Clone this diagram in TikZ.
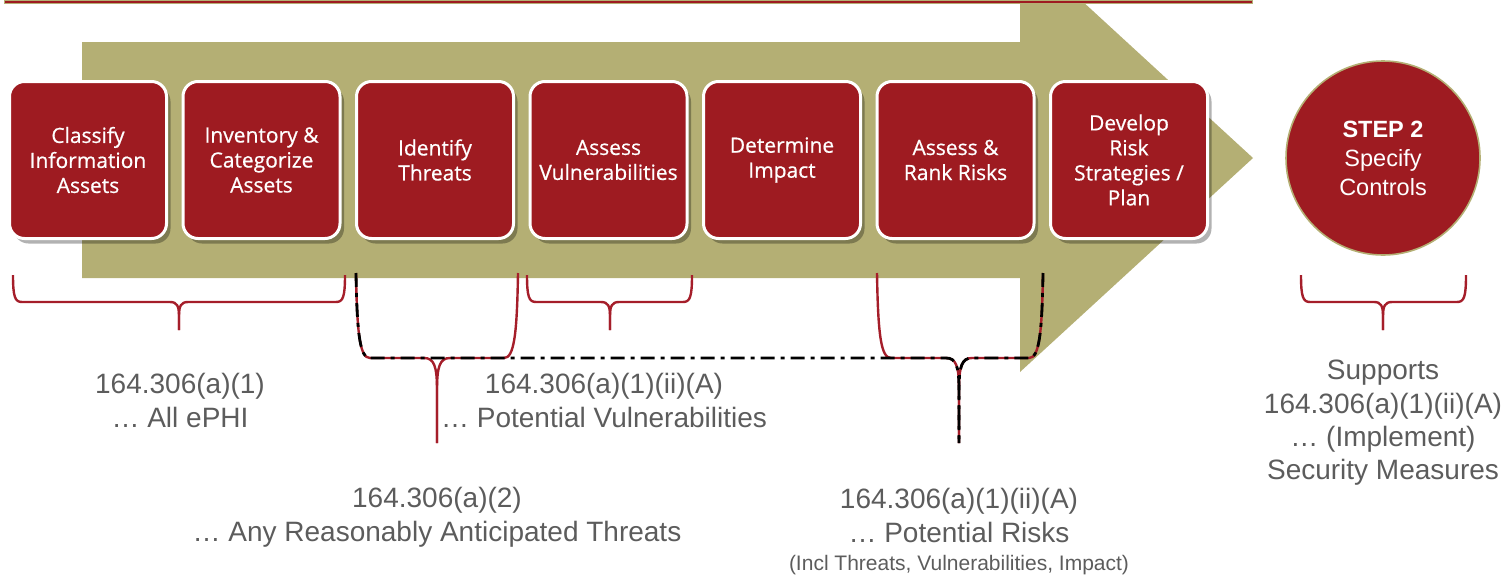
\documentclass[tikz,border=0pt]{standalone}
\usepackage{fontspec}
\setmainfont{Liberation Sans}
\newfontfamily\stepfont[FakeBold=0.6]{Open Sans}
\usetikzlibrary{shadows}

\definecolor{stepred}{RGB}{158,27,33}
\definecolor{olive}{RGB}{180,175,116}
\definecolor{bracered}{RGB}{165,30,42}
\definecolor{notegray}{RGB}{92,92,92}

% half of a short curly brace: arm at #1, cusp at #2 (sign #3 = direction of the arm)
\newcommand\shorthalf[3]{%
  \draw[bracepen] (#1,275) .. controls (#1,297) and (#1+#3*2,302) .. (#1+#3*9,302)
    -- (#2-#3*9,302) .. controls (#2-#3*2,302) and (#2,306) .. (#2,316) -- (#2,330);}
% half of a tall curly brace
\newcommand\tallhalf[4]{%
  \draw[#4] (#1,273) .. controls (#1+#3*1,335) and (#1+#3*4,358) .. (#1+#3*14,358)
    -- (#2-#3*13,358) .. controls (#2-#3*3,358) and (#2,366) .. (#2,390) -- (#2,443);}

\begin{document}
\begin{tikzpicture}[x=1pt,y=-1pt,
  stepbox/.style={rounded corners=15pt, fill=stepred, draw=white, line width=3pt,
    minimum width=157pt, minimum height=157pt, inner sep=0pt, align=center,
    text=white, font=\stepfont\fontsize{21}{25}\selectfont,
    drop shadow={shadow xshift=4pt, shadow yshift=-5pt, opacity=.3, fill=black}},
  bracepen/.style={draw=bracered, line width=2.4pt},
  dashpen/.style={draw=black, line width=2.8pt, line cap=butt,
    dash pattern=on 14pt off 6pt on 4pt off 6pt},
  note/.style={text=notegray, align=center, inner sep=0pt, font=\fontsize{28}{34}\selectfont}]
\useasboundingbox (0,0) rectangle (1509,579);

% process arrow
\fill[olive] (82,42) -- (1020,42) -- (1020,0) -- (1081,0) -- (1253,158)
  -- (1020,372) -- (1020,278) -- (82,278) -- cycle;
% header rule
\filldraw[fill=stepred, draw=olive, line width=0.8pt] (4,0) rectangle (1252,3.5);

% process steps
\node[stepbox] (classify) at (88,160) {Classify\\Information\\Assets};
\node[stepbox] (inventory) at (261.5,160) {Inventory \&\\Categorize\\Assets};
\node[stepbox] (threatsbox) at (435,160) {Identify\\Threats};
\node[stepbox] (vulnbox) at (608.5,160) {Assess\\Vulnerabilities};
\node[stepbox] (impact) at (782,160) {Determine\\Impact};
\node[stepbox] (rank) at (955.5,160) {Assess \&\\Rank Risks};
\node[stepbox] (plan) at (1129,160) {Develop\\Risk\\Strategies /\\Plan};

% next step
\node[circle, fill=stepred, draw=olive, line width=1.6pt, minimum size=194pt,
  inner sep=0pt, align=center, text=white, font=\fontsize{23.5}{29}\selectfont]
  (step2) at (1383,158) {\textbf{STEP 2}\\Specify\\Controls};

% short braces
\shorthalf{13}{179}{1}\shorthalf{345}{179}{-1}
\shorthalf{527}{610}{1}\shorthalf{692}{610}{-1}
\shorthalf{1301}{1383}{1}\shorthalf{1466}{1383}{-1}

% tall braces
\tallhalf{356}{437}{1}{bracepen}\tallhalf{518}{437}{-1}{bracepen}
\tallhalf{877}{959}{1}{bracepen}\tallhalf{1043}{959}{-1}{bracepen}
% dash-dot brace spanning threats to risks
\tallhalf{356}{959}{1}{dashpen}\tallhalf{1043}{959}{-1}{dashpen}

% regulation notes
\node[note] (ephi) at (180,400) {164.306(a)(1)\\… All ePHI};
\node[note] (vulns) at (604,400) {164.306(a)(1)(ii)(A)\\… Potential Vulnerabilities};
\node[note] (threats) at (437,517) {164.306(a)(2)\\… Any Reasonably Anticipated Threats};
\node[note] (risks) at (959,515) {164.306(a)(1)(ii)(A)\\… Potential Risks};
\node[note, font=\fontsize{21}{25}\selectfont] (riskparts) at (959,565) {(Incl Threats, Vulnerabilities, Impact)};
\node[note, font=\fontsize{28}{33.3}\selectfont] (measures) at (1383,423)
  {Supports\\164.306(a)(1)(ii)(A)\\… (Implement)\\Security Measures};
\end{tikzpicture}
\end{document}
